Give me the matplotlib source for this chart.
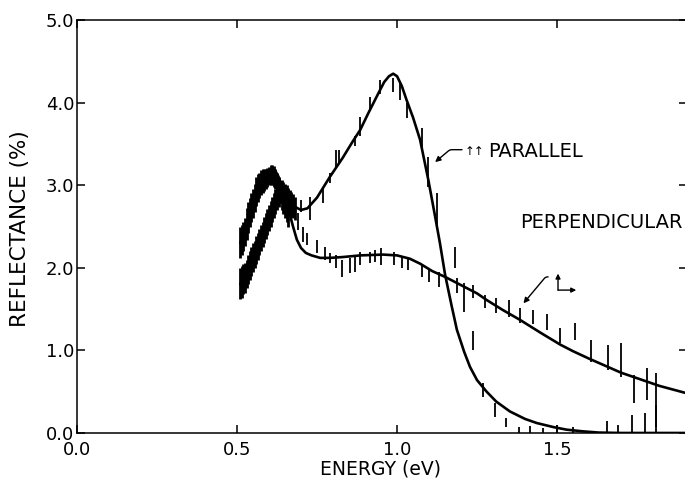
import matplotlib
matplotlib.use("Agg")
import matplotlib.pyplot as plt

plt.rcParams['font.family'] = ['DejaVu Sans']

# ---- smooth fitted curves ----
par_x = [0.51, 0.53, 0.55, 0.57, 0.59, 0.61, 0.63, 0.645, 0.66, 0.68, 0.70, 0.72, 0.75,
         0.79, 0.83, 0.86, 0.885, 0.91, 0.94, 0.96, 0.975, 0.988, 1.00, 1.015, 1.03,
         1.05, 1.072, 1.098, 1.119, 1.134, 1.15, 1.17, 1.187, 1.21, 1.228, 1.25, 1.28,
         1.31, 1.353, 1.40, 1.437, 1.49, 1.53, 1.58, 1.63, 1.70, 1.80, 1.906]
par_y = [1.80, 1.98, 2.17, 2.36, 2.55, 2.72, 2.85, 2.88, 2.82, 2.74, 2.70, 2.72, 2.85,
         3.10, 3.33, 3.52, 3.67, 3.87, 4.10, 4.25, 4.32, 4.35, 4.32, 4.20, 4.03,
         3.82, 3.55, 3.06, 2.62, 2.30, 1.92, 1.55, 1.25, 0.98, 0.80, 0.64, 0.50,
         0.38, 0.26, 0.17, 0.12, 0.07, 0.04, 0.02, 0.005, 0.0, 0.0, 0.0]

perp_x = [0.51, 0.53, 0.55, 0.57, 0.59, 0.605, 0.619, 0.63, 0.645, 0.66, 0.675, 0.687,
          0.70, 0.715, 0.733, 0.76, 0.79, 0.83, 0.885, 0.957, 1.00, 1.04, 1.072, 1.11,
          1.15, 1.20, 1.25, 1.28, 1.33, 1.384, 1.45, 1.51, 1.55, 1.60, 1.70, 1.82, 1.906]
perp_y = [2.30, 2.50, 2.70, 2.88, 3.05, 3.15, 3.18, 3.10, 2.92, 2.72, 2.50, 2.34,
          2.24, 2.18, 2.15, 2.12, 2.12, 2.13, 2.15, 2.16, 2.15, 2.11, 2.05, 1.96,
          1.89, 1.79, 1.69, 1.61, 1.49, 1.37, 1.21, 1.07, 0.99, 0.90, 0.73, 0.57, 0.48]

# ---- dense low-energy scans (vertical spread: energy, low, high) ----
par_dense_x = [0.510, 0.515, 0.520, 0.525, 0.530, 0.535, 0.540, 0.545, 0.550, 0.555,
               0.560, 0.565, 0.570, 0.575, 0.580, 0.585, 0.590, 0.595, 0.600, 0.605,
               0.610, 0.615, 0.620, 0.625, 0.630, 0.635, 0.640, 0.645, 0.650, 0.655,
               0.660, 0.665, 0.670, 0.675, 0.680]
par_dense_lo = [1.62, 1.64, 1.68, 1.70, 1.75, 1.80, 1.85, 1.90, 1.95, 2.00,
                2.05, 2.10, 2.15, 2.20, 2.25, 2.30, 2.35, 2.40, 2.45, 2.50,
                2.55, 2.60, 2.65, 2.70, 2.74, 2.78, 2.80, 2.78, 2.75, 2.72,
                2.70, 2.66, 2.62, 2.60, 2.58]
par_dense_hi = [2.00, 2.02, 2.04, 2.06, 2.10, 2.15, 2.20, 2.25, 2.30, 2.33,
                2.38, 2.42, 2.47, 2.52, 2.56, 2.61, 2.66, 2.71, 2.76, 2.81,
                2.86, 2.91, 2.96, 3.00, 3.02, 3.05, 3.06, 3.04, 3.02, 3.00,
                2.97, 2.94, 2.92, 2.89, 2.86]

perp_dense_x = [0.510, 0.515, 0.520, 0.525, 0.530, 0.535, 0.540, 0.545, 0.550, 0.555,
                0.560, 0.565, 0.570, 0.575, 0.580, 0.585, 0.590, 0.595, 0.600, 0.605,
                0.610, 0.615, 0.620, 0.625, 0.630, 0.635, 0.640, 0.645, 0.650, 0.655,
                0.660]
perp_dense_lo = [2.12, 2.15, 2.20, 2.26, 2.34, 2.42, 2.50, 2.55, 2.60, 2.68,
                 2.75, 2.80, 2.85, 2.88, 2.90, 2.93, 2.95, 2.98, 3.00, 3.00,
                 3.00, 2.98, 2.95, 2.90, 2.85, 2.78, 2.70, 2.65, 2.60, 2.55,
                 2.50]
perp_dense_hi = [2.50, 2.52, 2.55, 2.60, 2.72, 2.80, 2.85, 2.90, 2.95, 3.02,
                 3.10, 3.13, 3.15, 3.18, 3.20, 3.20, 3.20, 3.21, 3.22, 3.24,
                 3.25, 3.23, 3.20, 3.15, 3.10, 3.05, 3.00, 2.97, 2.95, 2.88,
                 2.80]

# ---- measured data (vertical bars: energy, low, high) ----
par_bar_x = [0.70, 0.728, 0.77, 0.79, 0.81, 0.82, 0.87, 0.884, 0.916, 0.947, 0.988,
             1.01, 1.03, 1.077, 1.098, 1.124, 1.18, 1.238, 1.27, 1.306, 1.34, 1.38,
             1.415, 1.457, 1.50, 1.55, 1.655, 1.69, 1.733, 1.775, 1.81]
par_bar_lo = [2.68, 2.58, 2.78, 3.03, 3.22, 3.27, 3.47, 3.59, 3.91, 4.11, 4.13,
              4.03, 3.81, 3.46, 2.98, 2.50, 2.00, 1.00, 0.44, 0.19, 0.07, 0.0,
              0.0, 0.0, 0.0, 0.0, 0.0, 0.0, 0.0, 0.0, 0.0]
par_bar_hi = [2.82, 2.86, 2.98, 3.15, 3.43, 3.43, 3.59, 3.83, 4.07, 4.27, 4.30,
              4.24, 3.99, 3.69, 3.34, 2.91, 2.25, 1.23, 0.61, 0.36, 0.18, 0.07,
              0.09, 0.06, 0.10, 0.07, 0.14, 0.10, 0.22, 0.24, 0.34]

perp_bar_x = [0.69, 0.707, 0.72, 0.75, 0.775, 0.79, 0.81, 0.827, 0.853, 0.87, 0.885,
              0.916, 0.93, 0.95, 0.99, 1.015, 1.035, 1.077, 1.10, 1.13, 1.187, 1.21,
              1.238, 1.275, 1.31, 1.35, 1.384, 1.425, 1.47, 1.51, 1.556, 1.605, 1.66,
              1.70, 1.74, 1.78, 1.81]
perp_bar_lo = [2.46, 2.31, 2.27, 2.18, 2.09, 2.06, 2.00, 1.89, 1.94, 1.95, 2.03,
               2.06, 2.07, 2.03, 2.03, 2.00, 1.97, 1.89, 1.83, 1.77, 1.69, 1.47,
               1.63, 1.51, 1.45, 1.40, 1.33, 1.32, 1.25, 1.09, 1.13, 0.86, 0.76,
               0.68, 0.36, 0.40, 0.07]
perp_bar_hi = [2.66, 2.49, 2.42, 2.34, 2.25, 2.18, 2.15, 2.09, 2.12, 2.13, 2.19,
               2.19, 2.22, 2.24, 2.19, 2.13, 2.12, 2.03, 2.00, 1.95, 1.88, 1.82,
               1.79, 1.67, 1.63, 1.61, 1.51, 1.49, 1.44, 1.27, 1.33, 1.13, 1.07,
               1.09, 0.70, 0.79, 0.73]

x_ticks = [0.0, 0.5, 1.0, 1.5]
x_tick_labels = ["0.0", "0.5", "1.0", "1.5"]
y_ticks = [0.0, 1.0, 2.0, 3.0, 4.0, 5.0]
y_tick_labels = ["0.0", "1.0", "2.0", "3.0", "4.0", "5.0"]

fig = plt.figure(figsize=(6.85, 4.86), dpi=100)
ax = fig.add_axes([0.1124, 0.1091, 0.8905, 0.8497])

ax.plot(par_x, par_y, color='black', lw=1.9, solid_capstyle='round')
ax.plot(perp_x, perp_y, color='black', lw=1.9, solid_capstyle='round')
ax.vlines(par_dense_x, par_dense_lo, par_dense_hi, color='black', lw=2.0)
ax.vlines(perp_dense_x, perp_dense_lo, perp_dense_hi, color='black', lw=2.0)
ax.vlines(par_bar_x, par_bar_lo, par_bar_hi, color='black', lw=1.3)
ax.vlines(perp_bar_x, perp_bar_lo, perp_bar_hi, color='black', lw=1.3)

ax.set_xlim(0.0, 1.906)
ax.set_ylim(0.0, 5.0)
ax.set_xticks(x_ticks)
ax.set_xticklabels(x_tick_labels)
ax.set_yticks(y_ticks)
ax.set_yticklabels(y_tick_labels)
ax.tick_params(direction='in', length=6, width=1.1, labelsize=13, pad=2,
               top=True, right=True)
ax.tick_params(axis='x', pad=6)
for s in ax.spines.values():
    s.set_linewidth(1.1)

fig.text(380 / 685, 1 - 469 / 486, "ENERGY (eV)", ha='center', va='center', fontsize=13.5)
fig.text(20 / 685, 1 - 229 / 486, "REFLECTANCE (%)", ha='center', va='center',
         rotation=90, fontsize=15.5)

# annotations
ax.text(1.242, 3.41, "↑↑", fontsize=8.5, ha='center', va='center')
ax.text(1.284, 3.41, "PARALLEL", fontsize=14, ha='left', va='center')
ax.annotate("", xy=(1.119, 3.28), xytext=(1.203, 3.43),
            arrowprops=dict(arrowstyle='-|>', color='black', lw=1.0,
                            mutation_scale=8, shrinkA=0, shrinkB=0,
                            connectionstyle='angle,angleA=0,angleB=40,rad=2'))
ax.text(1.384, 2.55, "PERPENDICULAR", fontsize=14, ha='left', va='center')
ax.annotate("", xy=(1.395, 1.57), xytext=(1.472, 1.89),
            arrowprops=dict(arrowstyle='-|>', color='black', lw=1.0,
                            mutation_scale=8, shrinkA=0, shrinkB=0,
                            connectionstyle='angle,angleA=0,angleB=50,rad=2'))
ax.annotate("", xy=(1.503, 1.93), xytext=(1.503, 1.73),
            arrowprops=dict(arrowstyle='-|>', color='black', lw=1.0,
                            mutation_scale=7, shrinkA=0, shrinkB=0))
ax.annotate("", xy=(1.56, 1.73), xytext=(1.503, 1.73),
            arrowprops=dict(arrowstyle='-|>', color='black', lw=1.0,
                            mutation_scale=7, shrinkA=0, shrinkB=0))

fig.savefig("out.png", dpi=100)
